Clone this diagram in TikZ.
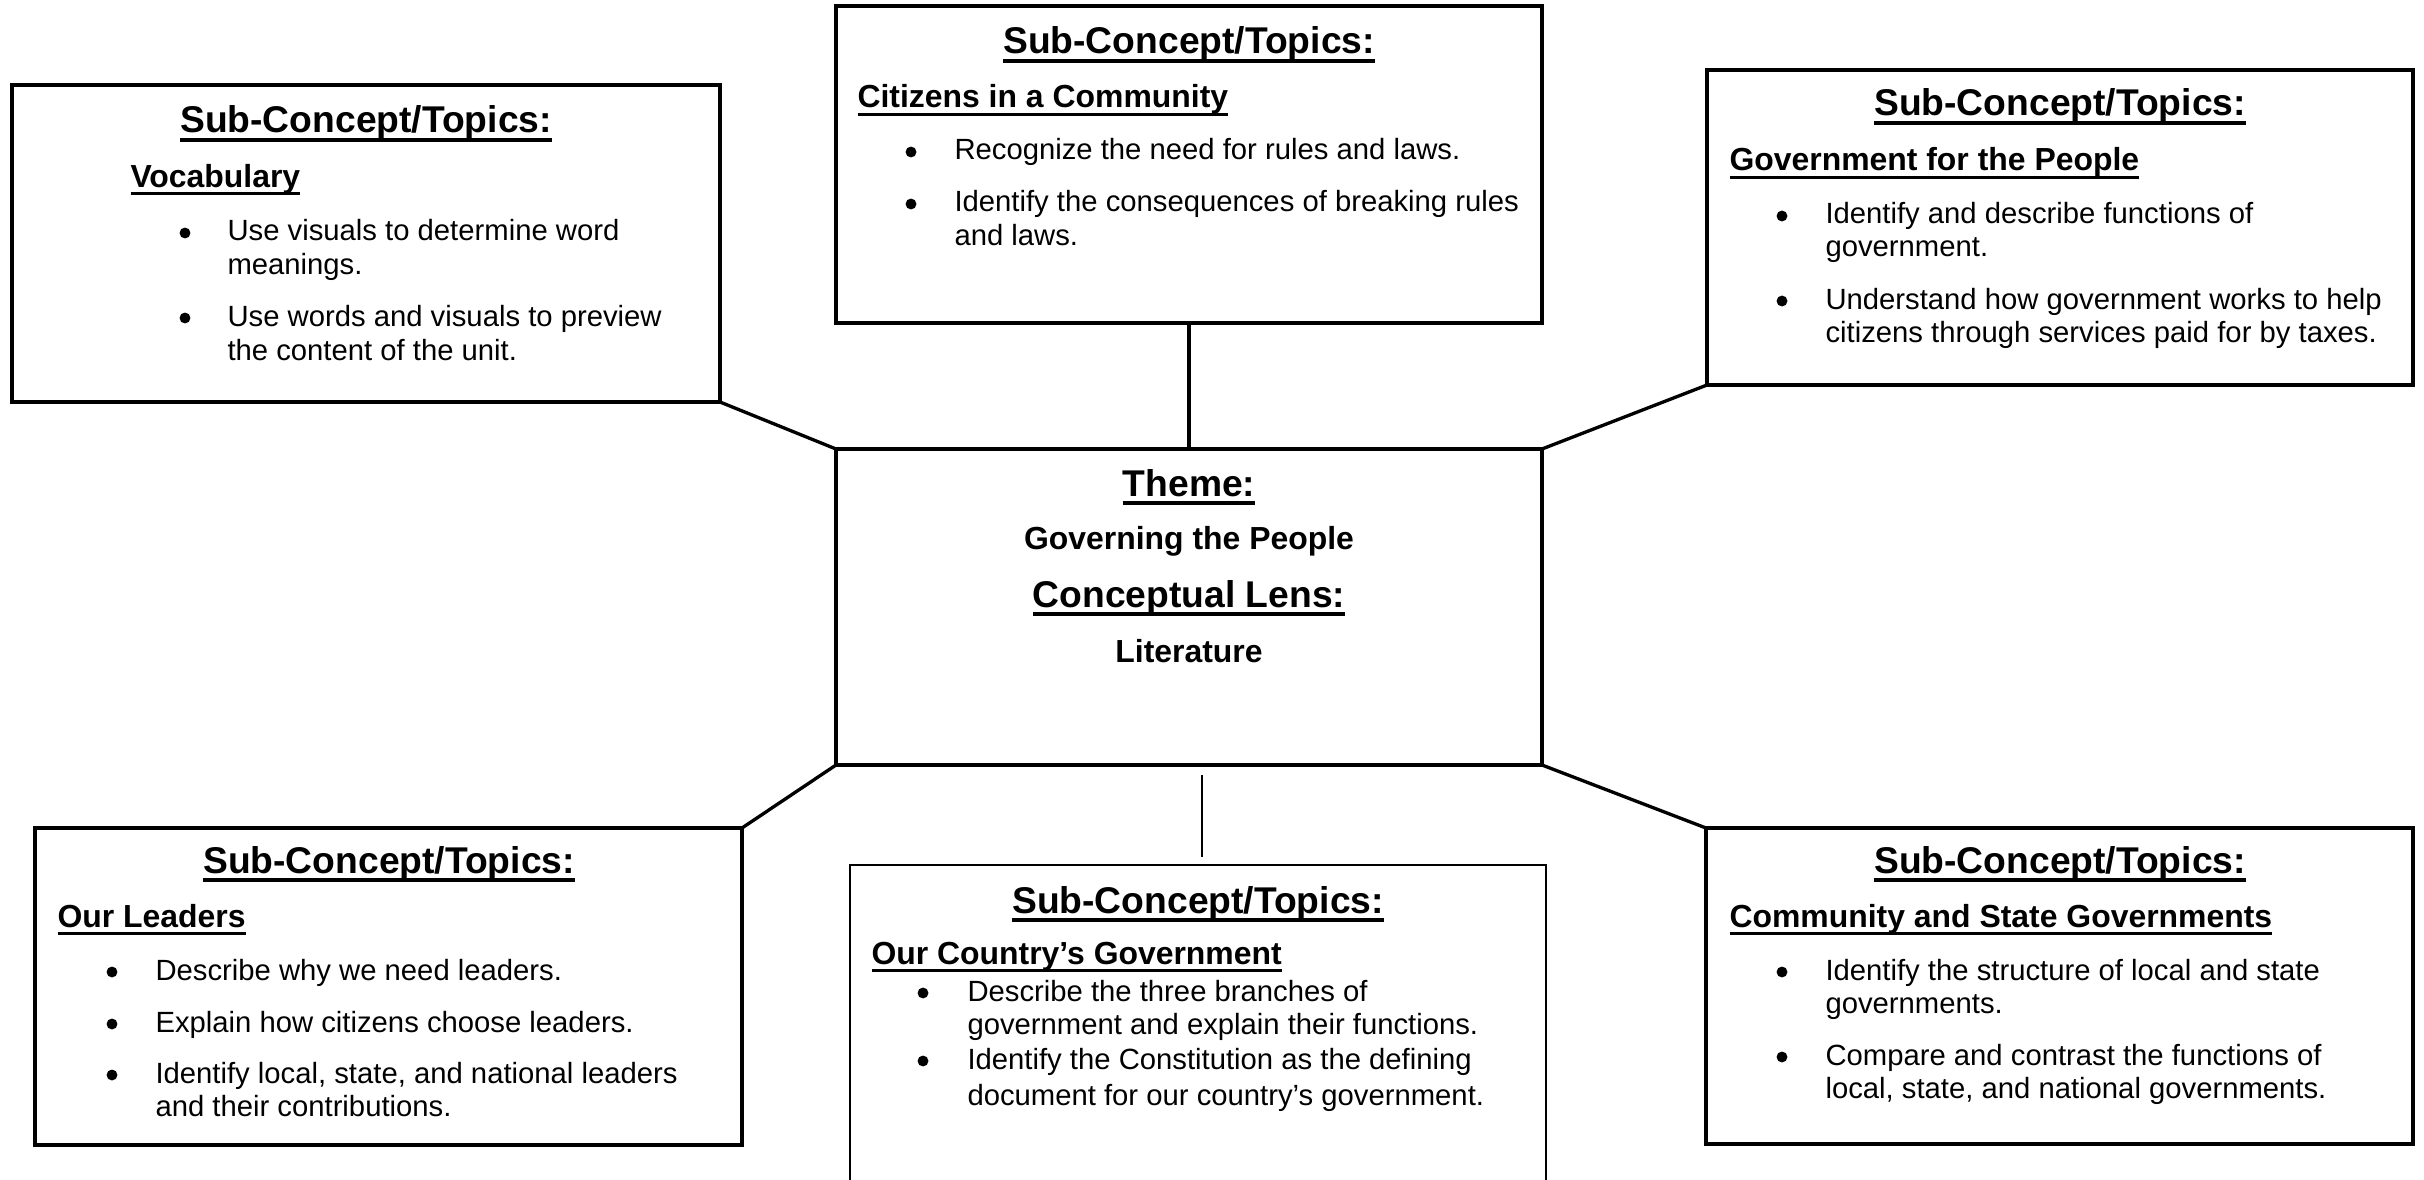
\documentclass[tikz,border=0pt]{standalone}
\usepackage{fontspec}
\setmainfont{Liberation Sans}
\newsavebox\ulbox
\newcommand{\ttlul}[1]{\sbox\ulbox{#1}\rlap{\rule[-3.4pt]{\wd\ulbox}{1.4pt}}\usebox\ulbox}
\newcommand{\subul}[1]{\sbox\ulbox{#1}\rlap{\rule[-3.0pt]{\wd\ulbox}{1.2pt}}\usebox\ulbox}
\tikzset{
  frame/.style={draw, line width=1.25pt, anchor=north west, inner sep=0pt, outer sep=0pt},
  ttl/.style={anchor=base, inner sep=0pt, font=\bfseries\fontsize{14}{16}\selectfont},
  cen/.style={anchor=base, inner sep=0pt, font=\bfseries\fontsize{12}{14}\selectfont},
  sub/.style={anchor=base west, inner sep=0pt, font=\bfseries\fontsize{12}{14}\selectfont},
  body/.style={anchor=base west, inner sep=0pt, font=\fontsize{11}{13}\selectfont},
  dot/.style={circle, fill=black, draw=none, inner sep=0pt, minimum size=4.1pt},
  link/.style={line width=1.25pt},
  thinline/.style={line width=0.65pt},
}
\newcommand{\bx}[6][]{\node[frame, #1, minimum width={#5*0.376pt}, minimum height={#6*0.376pt}] (#2) at (#3,#4) {};}
% bullet: name, x centre, baseline
\newcommand{\bul}[3]{\node[dot] (#1) at (#2,#3-8) {};}
\begin{document}
\begin{tikzpicture}[x=0.376pt, y=-0.376pt]
\useasboundingbox (0,0) rectangle (2424,1180);

% boxes
\bx{voc}{12}{85}{708}{317}
\bx{cit}{836}{6}{706}{317}
\bx{gov}{1707}{70}{706}{315}
\bx{theme}{836}{449}{706}{316}
\bx{lead}{35}{828}{707}{317}
\bx[draw=none]{country}{850}{865}{696}{330}
\bx{comm}{1706}{828}{707}{316}
\draw[thinline] (country.south west) -- (country.north west) -- (country.north east) -- (country.south east);

% connectors
\draw[link] (voc.south east) -- (theme.north west);
\draw[link] (cit.south) -- (theme.north);
\draw[link] (gov.south west) -- (theme.north east);
\draw[link] (theme.south west) -- (lead.north east);
\draw[link] (theme.south east) -- (comm.north west);
\coordinate (c1) at (1202,775);
\coordinate (c2) at (1202,857);
\draw[thinline] (c1) -- (c2);

% Vocabulary
\node[ttl] (vt) at (366,133) {\ttlul{Sub-Concept/Topics:}};
\node[sub] (vs) at (130,187) {\subul{Vocabulary}};
\bul{vb1}{185}{241}
\node[body] (vl1) at (227,241) {Use visuals to determine word};
\node[body] (vl2) at (227,275) {meanings.};
\bul{vb2}{185}{326}
\node[body] (vl3) at (227,326) {Use words and visuals to preview};
\node[body] (vl4) at (227,360) {the content of the unit.};

% Citizens
\node[ttl] (ct) at (1189,54) {\ttlul{Sub-Concept/Topics:}};
\node[sub] (cs) at (857,108) {\subul{Citizens in a Community}};
\bul{cb1}{911}{160}
\node[body] (cl1) at (954,160) {Recognize the need for rules and laws.};
\bul{cb2}{911}{212}
\node[body] (cl2) at (954,212) {Identify the consequences of breaking rules};
\node[body] (cl3) at (954,245) {and laws.};

% Government
\node[ttl] (gt) at (2060,116) {\ttlul{Sub-Concept/Topics:}};
\node[sub] (gs) at (1729,171) {\subul{Government for the People}};
\bul{gb1}{1782}{224}
\node[body] (gl1) at (1825,224) {Identify and describe functions of};
\node[body] (gl2) at (1825,257) {government.};
\bul{gb2}{1782}{309}
\node[body] (gl3) at (1825,309) {Understand how government works to help};
\node[body] (gl4) at (1825,343) {citizens through services paid for by taxes.};

% Theme
\node[ttl] (tt) at (1189,496) {\ttlul{Theme:}};
\node[cen] (tg) at (1189,549) {Governing the People};
\node[ttl] (tc) at (1189,607) {\ttlul{Conceptual Lens:}};
\node[cen] (tl) at (1189,662) {Literature};

% Leaders
\node[ttl] (lt) at (389,873) {\ttlul{Sub-Concept/Topics:}};
\node[sub] (ls) at (57,927) {\subul{Our Leaders}};
\bul{lb1}{112}{980}
\node[body] (ll1) at (155,980) {Describe why we need leaders.};
\bul{lb2}{112}{1032}
\node[body] (ll2) at (155,1032) {Explain how citizens choose leaders.};
\bul{lb3}{112}{1083}
\node[body] (ll3) at (155,1083) {Identify local, state, and national leaders};
\node[body] (ll4) at (155,1116) {and their contributions.};

% Country
\node[ttl] (yt) at (1198,913) {\ttlul{Sub-Concept/Topics:}};
\node[sub] (ys) at (871,964) {\subul{Our Country’s Government}};
\bul{yb1}{923}{1001}
\node[body] (yl1) at (967,1001) {Describe the three branches of};
\node[body] (yl2) at (967,1034) {government and explain their functions.};
\bul{yb2}{923}{1069}
\node[body] (yl3) at (967,1069) {Identify the Constitution as the defining};
\node[body] (yl4) at (967,1105) {document for our country’s government.};

% Community
\node[ttl] (mt) at (2060,873) {\ttlul{Sub-Concept/Topics:}};
\node[sub] (ms) at (1729,927) {\subul{Community and State Governments}};
\bul{mb1}{1782}{980}
\node[body] (ml1) at (1825,980) {Identify the structure of local and state};
\node[body] (ml2) at (1825,1013) {governments.};
\bul{mb2}{1782}{1065}
\node[body] (ml3) at (1825,1065) {Compare and contrast the functions of};
\node[body] (ml4) at (1825,1098) {local, state, and national governments.};
\end{tikzpicture}
\end{document}
